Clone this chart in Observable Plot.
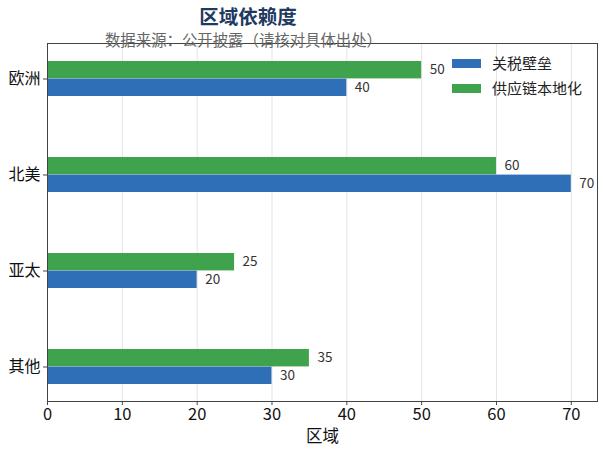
<!DOCTYPE html>
<html>
<head>
<meta charset="utf-8">
<script src="https://cdn.jsdelivr.net/npm/d3@7"></script>
<script src="https://cdn.jsdelivr.net/npm/@observablehq/plot@0.6"></script>
<style>
  body { margin: 0; background: #fff; font-family: "Noto Sans CJK SC", "Noto Sans", sans-serif; }
  #wrap { position: relative; width: 605px; height: 459px; }
  #title { position: absolute; left: 0; width: 496px; top: 3px; text-align: center; font-size: 19.5px; font-weight: bold; color: #1f3a5f; line-height: 26px; }
  #subtitle { position: absolute; left: 0; width: 487px; top: 29px; text-align: center; font-size: 15.4px; color: #666; line-height: 20px; z-index: 2; }
  .leg { position: absolute; font-size: 15px; color: #222; line-height: 18px; }
  .sw { position: absolute; width: 29px; height: 9px; }
</style>
</head>
<body>
<div id="wrap">
  <div id="chart"></div>
  <div id="title">区域依赖度</div>
  <div id="subtitle">数据来源：公开披露（请核对具体出处）</div>
  <div id="legend"></div>
</div>
<script>
const categories = ["欧洲", "北美", "亚太", "其他"];
const seriesNames = ["关税壁垒", "供应链本地化"];
const tariff = [40, 70, 20, 30];
const localization = [50, 60, 25, 35];
const xTicks = [0, 10, 20, 30, 40, 50, 60, 70];
const colors = ["#2f6fb7", "#3fa34d"];

const blueData = categories.map((c, i) => ({cat: c, v: tariff[i]}));
const greenData = categories.map((c, i) => ({cat: c, v: localization[i]}));
const font = "'Noto Sans CJK SC', 'Noto Sans', sans-serif";

const chart = Plot.plot({
  width: 605,
  height: 459,
  marginTop: 43,
  marginBottom: 58,
  marginLeft: 47,
  marginRight: 8,
  style: {fontFamily: font, background: "#fff"},
  x: {domain: [0, 73.5], ticks: xTicks, grid: false, label: null},
  y: {domain: categories, paddingInner: 0.638, paddingOuter: 0.17, label: null},
  marks: [
    Plot.gridX(xTicks, {stroke: "#e3e3e3", strokeOpacity: 1}),
    Plot.barX(greenData, {x: "v", y: "cat", fill: colors[1], insetBottom: 17.6}),
    Plot.barX(blueData, {x: "v", y: "cat", fill: colors[0], insetTop: 17.6}),
    Plot.text(greenData, {x: "v", y: "cat", text: d => String(d.v), dy: -9, dx: 8, textAnchor: "start", fontSize: 13.5, fill: "#333"}),
    Plot.text(blueData, {x: "v", y: "cat", text: d => String(d.v), dy: 9, dx: 8, textAnchor: "start", fontSize: 13.5, fill: "#333"}),
    Plot.axisX({ticks: xTicks, tickSize: 4, tickPadding: 3, fontSize: 16.5, fill: "#111", stroke: "#444", label: null}),
    Plot.axisY({tickSize: 4, tickPadding: 3, fontSize: 16, fill: "#111", stroke: "#444", label: null}),
    Plot.frame({stroke: "#444"}),
    Plot.text(["区域"], {frameAnchor: "bottom", dy: 40, fontSize: 16.5, fill: "#111"})
  ]
});
chart.style.overflow = "visible";
document.getElementById("chart").appendChild(chart);

const legend = document.getElementById("legend");
seriesNames.forEach((name, i) => {
  const sw = document.createElement("div");
  sw.className = "sw";
  sw.style.left = "452px";
  sw.style.top = (59 + i * 25) + "px";
  sw.style.background = colors[i];
  legend.appendChild(sw);
  const lb = document.createElement("div");
  lb.className = "leg";
  lb.style.left = "492px";
  lb.style.top = (54 + i * 25) + "px";
  lb.textContent = name;
  legend.appendChild(lb);
});
</script>
</body>
</html>
